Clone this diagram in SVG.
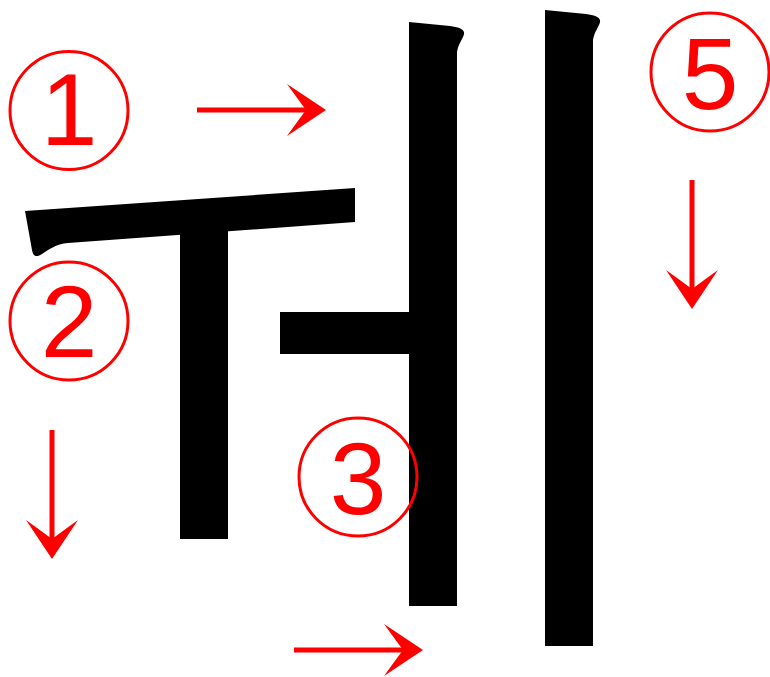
<svg xmlns="http://www.w3.org/2000/svg" width="770" height="677" viewBox="0 0 770 677">
<style>
.glyph{fill:#000}
.ring{fill:none;stroke:#ff0000;stroke-width:3}
.num{fill:#ff0000;font-family:"Liberation Sans",Arial,sans-serif;font-size:102px;text-anchor:middle}
.shaft{stroke:#ff0000;stroke-width:5;fill:none}
.head{fill:#ff0000}
</style>
<rect width="770" height="677" fill="#fff"/>
<g id="strokes">
<path id="s1" class="glyph" d="M25,211 L355,188 L355,222 L68,243 C56,244 48,250 42,254 C36,258 33,256 32,250 Z"/>
<rect id="s2" class="glyph" x="180" y="228" width="48" height="311"/>
<rect id="s3" class="glyph" x="280" y="312" width="130" height="42"/>
<path id="s4" class="glyph" d="M409,22 L450,26 C458,27 465,29 464,34 C463,39 458,44 457,52 L457,606 L409,606 Z"/>
<path id="s5" class="glyph" d="M545,10 L586,14 C594,15 601,17 600,22 C599,27 594,32 593,40 L593,646 L545,646 Z"/>
</g>
<g id="connectors">
<line class="shaft" x1="197" y1="110" x2="310" y2="110"/>
<path class="head" d="M287,84 L326,110 L287,136 Q300,118 306,110 Q300,102 287,84 Z"/>
<line class="shaft" x1="52" y1="430" x2="52" y2="540"/>
<path class="head" d="M26,520 L52,559 L78,520 Q60,533 52,539 Q44,533 26,520 Z"/>
<line class="shaft" x1="294" y1="650" x2="405" y2="650"/>
<path class="head" d="M384,624 L423,650 L384,676 Q397,658 403,650 Q397,642 384,624 Z"/>
<line class="shaft" x1="692" y1="180" x2="692" y2="290"/>
<path class="head" d="M666,270 L692,309 L718,270 Q700,283 692,289 Q684,283 666,270 Z"/>
</g>
<g id="n1"><circle class="ring" cx="69" cy="110.5" r="59"/><text class="num" x="69" y="145">1</text></g>
<g id="n2"><circle class="ring" cx="69" cy="321" r="59"/><text class="num" x="69" y="356.5">2</text></g>
<g id="n3"><circle class="ring" cx="358" cy="477" r="59"/><text class="num" x="358" y="514">3</text></g>
<g id="n5"><circle class="ring" cx="710" cy="72" r="59"/><text class="num" x="710" y="109">5</text></g>
</svg>
